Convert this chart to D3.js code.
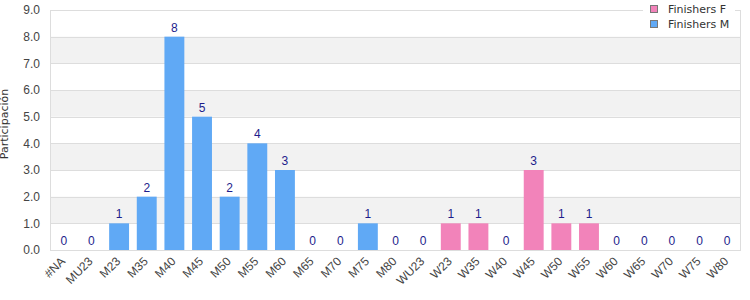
<!DOCTYPE html>
<html>
<head>
<meta charset="utf-8">
<script src="https://cdn.jsdelivr.net/npm/d3@7"></script>
<style>
  body { margin: 0; background: #fff; }
  svg { font-family: "DejaVu Sans", sans-serif; }
</style>
</head>
<body>
<div id="chart"></div>
<script>
// data
const categories = ["#NA", "MU23", "M23", "M35", "M40", "M45", "M50", "M55", "M60", "M65", "M70", "M75", "M80",
  "WU23", "W23", "W35", "W40", "W45", "W50", "W55", "W60", "W65", "W70", "W75", "W80"];
const finishersM = [0, 0, 1, 2, 8, 5, 2, 4, 3, 0, 0, 1, 0, null, null, null, null, null, null, null, null, null, null, null, null];
const finishersF = [null, null, null, null, null, null, null, null, null, null, null, null, null, 0, 1, 1, 0, 3, 1, 1, 0, 0, 0, 0, 0];
const yTicks = [0, 1, 2, 3, 4, 5, 6, 7, 8, 9];
const seriesNames = ["Finishers F", "Finishers M"];
const seriesColors = ["#f283ba", "#60a9f5"];

const width = 750, height = 300;
const plotLeft = 50, plotRight = 741, plotTop = 10, plotBottom = 250;
const tickFont = "Liberation Sans";

const svg = d3.select("#chart").append("svg").attr("width", width).attr("height", height);

const x = d3.scaleBand().domain(categories).range([plotLeft, plotRight]).paddingInner(0.28).paddingOuter(0.14);
const y = d3.scaleLinear().domain([0, 9]).range([plotBottom, plotTop]);

//alternating background bands
svg.append("g").selectAll("rect").data(yTicks.slice(0, -1).filter(d => d % 2 === 1))
  .enter().append("rect")
  .attr("x", plotLeft).attr("width", plotRight - plotLeft)
  .attr("y", d => y(d + 1)).attr("height", d => y(d) - y(d + 1))
  .attr("fill", "#f2f2f2");

//grid lines
svg.append("g").selectAll("line").data(yTicks)
  .enter().append("line")
  .attr("x1", plotLeft).attr("x2", plotRight)
  .attr("y1", d => Math.round(y(d)) + 0.5).attr("y2", d => Math.round(y(d)) + 0.5)
  .attr("stroke", "#dddddd");

//plot border (right + left)
svg.append("line").attr("x1", plotRight - 0.5).attr("x2", plotRight - 0.5).attr("y1", plotTop).attr("y2", plotBottom).attr("stroke", "#dddddd");
svg.append("line").attr("x1", plotLeft + 0.5).attr("x2", plotLeft + 0.5).attr("y1", plotTop).attr("y2", plotBottom + 1).attr("stroke", "#dddddd");

//y axis labels
const yAxis = d3.axisLeft(y).tickValues(yTicks).tickFormat(d3.format(".1f")).tickSize(0).tickPadding(10);
const ya = svg.append("g").attr("transform", `translate(${plotLeft},0)`).call(yAxis);
ya.select(".domain").remove();
ya.selectAll("text").attr("fill", "#444").style("font-size", "12px").style("font-family", tickFont);

//x axis labels
const xAxis = d3.axisBottom(x).tickSize(0).tickPadding(0);
const xa = svg.append("g").attr("transform", `translate(0,${plotBottom})`).call(xAxis);
xa.select(".domain").remove();
xa.selectAll("text")
  .attr("fill", "#444").style("font-size", "12px").style("font-family", tickFont)
  .attr("text-anchor", "end").attr("dy", null).attr("y", 0)
  .attr("transform", "translate(2,12) rotate(-45)");

//bars
const series = [
  { name: seriesNames[1], values: finishersM, color: seriesColors[1] },
  { name: seriesNames[0], values: finishersF, color: seriesColors[0] }
];
series.forEach(s => {
  const pts = categories.map((c, i) => ({ c, v: s.values[i] })).filter(d => d.v !== null);
  svg.append("g").selectAll("rect").data(pts).enter().append("rect")
    .attr("x", d => x(d.c)).attr("width", x.bandwidth())
    .attr("y", d => y(d.v)).attr("height", d => y(0) - y(d.v))
    .attr("fill", s.color);
  svg.append("g").selectAll("text").data(pts).enter().append("text")
    .attr("x", d => x(d.c) + x.bandwidth() / 2)
    .attr("y", d => y(d.v) - 5)
    .attr("text-anchor", "middle")
    .attr("fill", "#1d1d8c")
    .style("font-size", "12px").style("font-family", tickFont)
    .text(d => d.v);
});

//y title
svg.append("text").attr("transform", "translate(8,124) rotate(-90)")
  .attr("text-anchor", "middle").attr("fill", "#333").style("font-size", "11px")
  .text("Participación");

//legend
const legend = svg.append("g").attr("transform", "translate(643,0)");
legend.append("rect").attr("x", 0).attr("y", 0).attr("width", 92).attr("height", 33).attr("fill", "#fff");
seriesNames.forEach((n, i) => {
  legend.append("rect").attr("x", 7.5).attr("y", 5.5 + i * 15).attr("width", 7).attr("height", 7)
    .attr("fill", seriesColors[i]).attr("stroke", "#777");
  legend.append("text").attr("x", 25).attr("y", 13 + i * 15).attr("fill", "#333")
    .style("font-size", "11px").text(n);
});
</script>
</body>
</html>
